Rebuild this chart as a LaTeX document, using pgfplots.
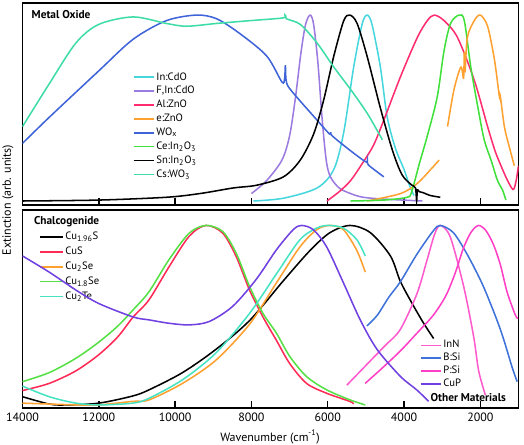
\documentclass[border=0pt]{standalone}
\usepackage{pgfplots}
\pgfplotsset{compat=1.18}
\usepackage{fontspec}
\setmainfont{PT Sans}
\definecolor{cIn}{HTML}{45D6DE}
\definecolor{cF}{HTML}{9B7BE0}
\definecolor{cAl}{HTML}{FF2D6F}
\definecolor{cE}{HTML}{FFA131}
\definecolor{cW}{HTML}{3F63D9}
\definecolor{cCe}{HTML}{3FE03A}
\definecolor{cCs}{HTML}{3EDDA6}
\definecolor{cCuS}{HTML}{FF2A55}
\definecolor{cCuSe}{HTML}{FFA030}
\definecolor{cCuSeb}{HTML}{55E045}
\definecolor{cCuTe}{HTML}{45E3C2}
\definecolor{cInN}{HTML}{FF5ACD}
\definecolor{cBSi}{HTML}{3E72D9}
\definecolor{cPSi}{HTML}{FF40C6}
\definecolor{cCuP}{HTML}{7040E0}
\pgfplotsset{
  base/.style={
    scale only axis, width=372pt,
    x dir=reverse, xmin=1000, xmax=14000,
    xtick={2000,4000,6000,8000,10000,12000,14000},
    scaled x ticks=false,
    xtick pos=lower, xtick align=inside, ytick=\empty,
    major tick length=5pt,
    every tick/.style={black, line width=1.1pt},
    axis line style={line width=1.1pt},
    /pgf/number format/set thousands separator={},
    /pgf/number format/assume math mode=true,
    tick label style={font=\fontsize{9}{10}\selectfont},
    clip=true,
    every axis plot/.append style={line width=1.15pt, no marks, smooth, tension=0.5},
    legend cell align=left,
  },
}
\begin{document}
\begin{tikzpicture}
\useasboundingbox (0,0) rectangle (393pt,333.75pt);
% ---------------- top: Metal Oxide
\begin{axis}[base, at={(16.875pt,180pt)}, anchor=south west, height=151.5pt,
  ymin=-0.0215, ymax=1.065, xticklabels=\empty,
  legend style={at={(axis description cs:0.222,0.668)}, anchor=north west, draw=none, fill=none,
    font=\fontsize{8}{9}\selectfont, inner sep=0pt, row sep=0pt,
    nodes={inner sep=1.5pt, text height=5.8pt, text depth=1.6pt}},
  legend image code/.code={\draw[#1, sharp plot, line width=1.2pt] (0pt,0pt) -- (15pt,0pt);},
]
\addplot[cIn] coordinates {(7950,0.0) (7160,0.015) (6280,0.07) (5840,0.17) (5580,0.37) (5320,0.72) (5100,0.95) (4970,1.0) (4840,0.95) (4620,0.72) (4440,0.45) (4220,0.28) (4000,0.17) (3850,0.08) (3740,0.03)};
\addlegendentry{In:CdO}
\addplot[cF] coordinates {(8000,0.04) (7600,0.11) (7200,0.22) (7000,0.35) (6850,0.55) (6700,0.80) (6580,0.95) (6460,1.0) (6370,0.95) (6260,0.75) (6150,0.45) (6040,0.22) (5930,0.13) (5700,0.07) (5400,0.04) (5070,0.02) (4500,0.01) (3520,0.0)};
\addlegendentry{F,In:CdO}
\addplot[cAl] coordinates {(6020,0.0) (5700,0.05) (5400,0.11) (5100,0.2) (4800,0.3) (4530,0.435) (4090,0.67) (3650,0.88) (3390,0.97) (3210,1.0) (2950,0.97) (2600,0.88) (2160,0.65) (1810,0.40) (1615,0.27) (1460,0.19) (1310,0.12) (1180,0.07) (1120,0.065) (1060,0.11) (1000,0.19)};
\addlegendentry{Al:ZnO}
\addplot[cE] coordinates {(4970,0.0) (4090,0.04) (3650,0.095) (3300,0.17) (3080,0.22)};
\addlegendentry{e:ZnO}
\addplot[cW] coordinates {(14000,0.31) (13300,0.45) (12000,0.70) (11100,0.87) (10230,0.97) (9440,1.0) (8910,0.98) (8300,0.90) (7600,0.78) (7200,0.64) (7130,0.66) (7110,0.73) (7090,0.65) (6980,0.60) (6280,0.435) (5950,0.36) (5920,0.37) (5880,0.35) (5400,0.27) (5000,0.21) (4960,0.22) (4940,0.195) (4530,0.13)};
\addlegendentry{WO\textsubscript{x}}
\addplot[cCe] coordinates {(5400,0.0) (4530,0.005) (3920,0.02) (3800,0.05) (3600,0.2) (3390,0.35) (3130,0.56) (2950,0.81) (2780,0.955) (2560,1.0) (2420,0.97) (2250,0.72) (2070,0.51) (1900,0.33) (1720,0.22) (1550,0.11) (1420,0.06) (1330,0.005)};
\addlegendentry{Ce:In\textsubscript{2}O\textsubscript{3}}
\addplot[black] coordinates {(14000,0.0) (12000,0.005) (10230,0.02) (9350,0.04) (8480,0.07) (7860,0.085) (7160,0.13) (6720,0.22) (6370,0.36) (6110,0.54) (5840,0.78) (5580,0.97) (5420,1.0) (5230,0.955) (4970,0.78) (4620,0.50) (4300,0.27) (4050,0.14) (3800,0.086) (3700,0.07) (3670,0.0) (3650,0.06) (3600,0.05) (3500,0.045) (3320,0.03) (3050,0.02)};
\addlegendentry{Sn:In\textsubscript{2}O\textsubscript{3}}
\addplot[cCs] coordinates {(14000,0.40) (13300,0.63) (12600,0.85) (12000,0.95) (11100,0.99) (10230,0.955) (9700,0.94) (8910,0.955) (8040,0.97) (7160,0.985) (7120,1.0) (7080,0.98) (6720,0.95) (6280,0.85) (5840,0.72) (5400,0.60) (4960,0.47) (4570,0.33)};
\addlegendentry{Cs:WO\textsubscript{3}}
\addplot[cE, forget plot] coordinates {(2860,0.40) (2690,0.60) (2510,0.72) (2440,0.66) (2420,0.80) (2400,0.70) (2340,0.88) (2160,0.97) (2000,1.0) (1810,0.94) (1630,0.76) (1500,0.56) (1480,0.57) (1370,0.40) (1240,0.29) (1110,0.19)};
\end{axis}
% ---------------- bottom: Chalcogenide
\begin{axis}[base, at={(16.875pt,27.75pt)}, anchor=south west, height=148.5pt,
  ymin=-0.017, ymax=1.086,
  legend style={at={(axis description cs:0.033,0.901)}, anchor=north west, draw=none, fill=none,
    font=\fontsize{8}{9}\selectfont, inner sep=0pt, row sep=0pt,
    nodes={inner sep=1.55pt, text height=6pt, text depth=2pt}},
  legend image code/.code={\draw[#1, sharp plot, line width=1.2pt] (0pt,0pt) -- (17pt,0pt);},
]
\addplot[black] coordinates {(14000,0.046) (13300,0.005) (12860,0.0) (12000,0.01) (11110,0.05) (10686,0.084) (9807,0.18) (8928,0.31) (8049,0.47) (7170,0.69) (6466,0.86) (5940,0.96) (5412,1.0) (4885,0.96) (4357,0.83) (4100,0.69) (3800,0.57) (3500,0.46) (3225,0.37)};
\addlegendentry{Cu\textsubscript{1.96}S}
\addplot[cCuS] coordinates {(14000,0.08) (13300,0.12) (12600,0.19) (12000,0.28) (11500,0.38) (11100,0.49) (10686,0.585) (10158,0.77) (9631,0.94) (9191,1.0) (8752,0.957) (8400,0.827) (8049,0.64) (7697,0.49) (7345,0.36) (6994,0.23) (6554,0.12) (6027,0.065) (5412,0.019) (5324,0.005)};
\addlegendentry{CuS}
\addplot[cCuSe] coordinates {(14000,0.01) (13300,0.005) (12500,0.0) (12000,0.0) (11110,0.02) (10686,0.028) (9807,0.12) (8928,0.25) (8049,0.45) (7345,0.68) (6730,0.88) (6290,0.976) (5940,1.0) (5588,0.976) (5236,0.86) (5016,0.74)};
\addlegendentry{Cu\textsubscript{2}Se}
\addplot[cCuSeb] coordinates {(14000,0.13) (13300,0.18) (12600,0.26) (12000,0.35) (11500,0.44) (11100,0.53) (10686,0.63) (10158,0.81) (9631,0.957) (9191,1.0) (8752,0.966) (8400,0.846) (8049,0.66) (7697,0.51) (7345,0.40) (6994,0.27) (6554,0.158) (6027,0.084) (5412,0.028) (5016,0.0)};
\addlegendentry{Cu\textsubscript{1.8}Se}
\addplot[cCuTe] coordinates {(14000,0.105) (13300,0.046) (12600,0.01) (12000,0.0) (11110,0.01) (10686,0.037) (9807,0.14) (8928,0.29) (8049,0.51) (7345,0.73) (6730,0.92) (6290,0.985) (5983,1.0) (5588,0.985) (5236,0.92) (5016,0.83)};
\addlegendentry{Cu\textsubscript{2}Te}
\end{axis}
% ---------------- bottom: Other Materials (overlay)
\begin{axis}[base, at={(16.875pt,27.75pt)}, anchor=south west, height=148.5pt,
  ymin=-0.017, ymax=1.086, axis line style={draw=none}, xticklabels=\empty, xtick=\empty,
  legend style={at={(axis description cs:0.801,0.35)}, anchor=north west, draw=none, fill=none,
    font=\fontsize{8}{9}\selectfont, inner sep=0pt, row sep=0pt,
    nodes={inner sep=1.3pt, text height=5.4pt, text depth=1.6pt}},
  legend image code/.code={\draw[#1, sharp plot, line width=1.2pt] (0pt,0pt) -- (15pt,0pt);},
]
\addplot[cInN] coordinates {(5500,0.11) (5000,0.22) (4500,0.33) (4100,0.42) (3661,0.62) (3400,0.805) (3200,0.95) (3050,1.0) (2787,0.935) (2437,0.66) (2175,0.38) (2044,0.19) (1868,0.055)};
\addlegendentry{InN}
\addplot[cBSi] coordinates {(4974,0.44) (4700,0.50) (4400,0.60) (4100,0.685) (3661,0.84) (3233,0.97) (3050,1.0) (2708,0.96) (2348,0.84) (1920,0.66) (1474,0.42) (1167,0.21) (1035,0.13)};
\addlegendentry{B:Si}
\addplot[cPSi] coordinates {(5019,0.12) (4600,0.20) (4100,0.30) (3661,0.40) (3233,0.50) (2900,0.61) (2650,0.74) (2450,0.87) (2250,0.96) (2050,1.0) (1850,0.97) (1650,0.89) (1474,0.78) (1300,0.63) (1100,0.51) (1020,0.48)};
\addlegendentry{P:Si}
\addplot[cCuP] coordinates {(14000,0.83) (13300,0.74) (12600,0.64) (12000,0.565) (11100,0.49) (10686,0.474) (10158,0.455) (9631,0.446) (9103,0.465) (8488,0.55) (7873,0.70) (7345,0.864) (6906,0.976) (6686,1.0) (6378,0.976) (6027,0.88) (5588,0.68) (5148,0.474) (4709,0.31) (4100,0.16) (3662,0.083) (3356,0.02)};
\addlegendentry{CuP}
\end{axis}
\node[anchor=west, font=\bfseries\fontsize{8.5}{10}\selectfont] at (20.25pt,322.5pt) {Metal Oxide};
\node[anchor=west, font=\bfseries\fontsize{8.5}{10}\selectfont] at (22pt,167.5pt) {Chalcogenide};
\node[anchor=east, font=\bfseries\fontsize{8.5}{10}\selectfont] at (383pt,35.5pt) {Other Materials};
\node[rotate=90, font=\fontsize{9}{10}\selectfont] at (6pt,183.75pt) {Extinction (arb. units)};
\node[font=\fontsize{9}{10}\selectfont] at (202.5pt,6pt) {Wavenumber (cm\textsuperscript{-1})};
\end{tikzpicture}
\end{document}
